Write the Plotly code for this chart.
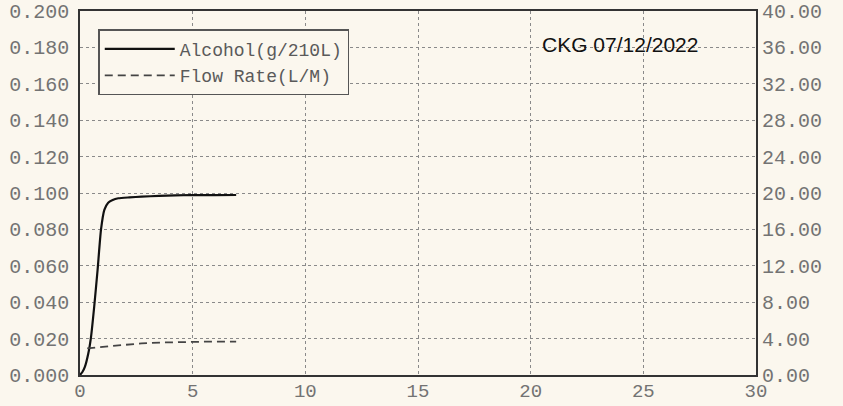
import plotly.graph_objects as go

# Alcohol (g/210L) vs time (s)
alc_time = [0.0, 0.1, 0.22, 0.37, 0.49, 0.63, 0.78, 0.93, 1.08, 1.25, 1.45, 1.70, 2.2, 2.73, 3.5, 4.94, 6.0, 6.93]
alc_vals = [0.0, 0.0015, 0.0046, 0.0119, 0.021, 0.0375, 0.0577, 0.0797, 0.0907, 0.0947, 0.0962, 0.0971, 0.0976, 0.098, 0.0984, 0.0989, 0.0988, 0.0989]

# Flow rate (L/M) vs time (s)
flow_time = [0.32, 1.0, 1.8, 2.73, 3.8, 4.94, 6.0, 6.93]
flow_vals = [2.93, 3.1, 3.3, 3.48, 3.58, 3.66, 3.68, 3.66]

x_ticks = [0, 5, 10, 15, 20, 25, 30]
left_ticks = [0.0, 0.02, 0.04, 0.06, 0.08, 0.10, 0.12, 0.14, 0.16, 0.18, 0.20]
right_ticks = [0, 4, 8, 12, 16, 20, 24, 28, 32, 36, 40]

stamp_text = "CKG 07/12/2022"

BG = "#fbf7ee"
TXT = "#737373"
MONO = "Liberation Mono"

fig = go.Figure()
fig.add_trace(go.Scatter(
    x=alc_time, y=alc_vals, mode="lines", name="Alcohol(g/210L)",
    line=dict(color="#111111", width=2.2, shape="spline", smoothing=0.5),
    yaxis="y",
))
fig.add_trace(go.Scatter(
    x=flow_time, y=flow_vals, mode="lines", name="Flow Rate(L/M)",
    line=dict(color="#444444", width=1.8, dash="8px,5px"),
    yaxis="y2",
))

fig.update_layout(
    width=843, height=406,
    paper_bgcolor=BG, plot_bgcolor=BG,
    margin=dict(l=80, r=87, t=11, b=31, autoexpand=False),
    font=dict(family=MONO, size=20, color=TXT),
    showlegend=True,
    legend=dict(
        x=0.027, y=0.95, xanchor="left", yanchor="top",
        bgcolor=BG, bordercolor="#555555", borderwidth=1.5,
        font=dict(family=MONO, size=18, color="#5a5a5a"),
        itemwidth=70, tracegroupgap=0,
    ),
    xaxis=dict(
        range=[0, 30], tickvals=x_ticks, ticktext=[str(v) for v in x_ticks],
        showgrid=True, gridcolor="#8a8a8a", griddash="dot", gridwidth=1,
        showline=True, linecolor="#333333", linewidth=2, mirror=True,
        ticks="", zeroline=False, ticklabelstandoff=-3, automargin=False,
        tickfont=dict(size=19),
    ),
    yaxis=dict(
        range=[0, 0.2], tickvals=left_ticks, tickformat=".3f",
        showgrid=True, gridcolor="#8a8a8a", griddash="dot", gridwidth=1,
        showline=True, linecolor="#333333", linewidth=1.5, mirror=True,
        ticks="", zeroline=False, ticklabelstandoff=5, automargin=False,
    ),
    yaxis2=dict(
        range=[0, 40], tickvals=right_ticks, tickformat=".2f",
        overlaying="y", side="right", showgrid=False,
        showline=False, ticks="", zeroline=False, ticklabelstandoff=5,
        automargin=False,
    ),
    annotations=[dict(
        text=stamp_text, xref="paper", yref="paper", x=0.799, y=0.909,
        xanchor="center", yanchor="middle", showarrow=False,
        font=dict(family="Liberation Sans", size=21, color="#111111"),
    )],
)

fig.write_html(
    "out.html",
    config={"displayModeBar": False},
    post_script="document.body.style.margin='0';document.body.style.background='#fbf7ee';",
)
